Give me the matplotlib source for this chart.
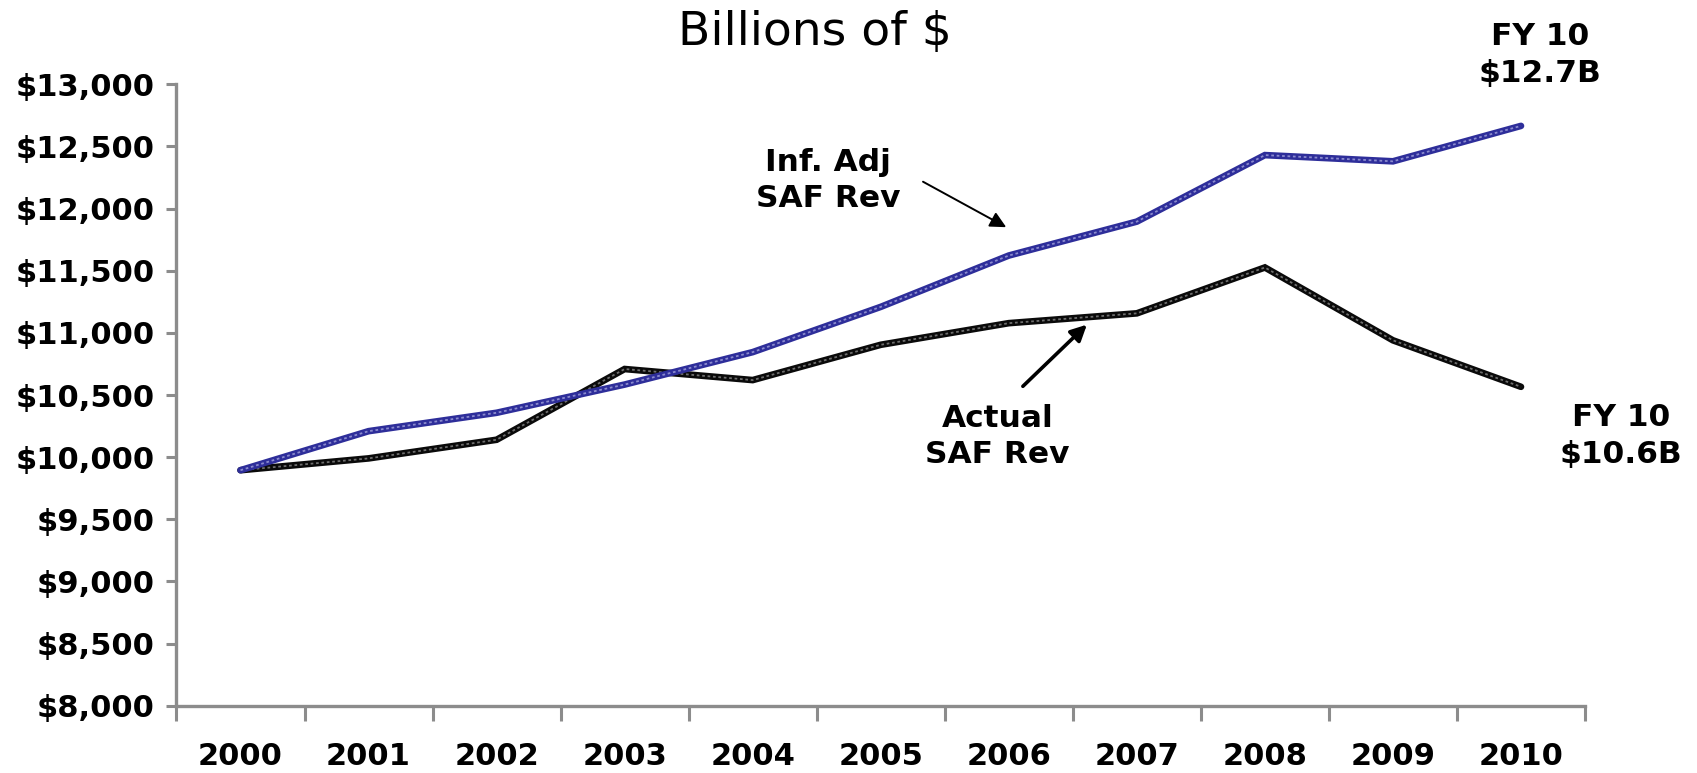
import numpy as np
import matplotlib.pyplot as plt

# data
years = ["2000", "2001", "2002", "2003", "2004", "2005",
         "2006", "2007", "2008", "2009", "2010"]
inf_adj = [9895, 10209, 10357, 10584, 10845, 11209, 11622, 11895, 12430, 12380, 12665]
actual = [9895, 9990, 10140, 10709, 10620, 10904, 11078, 11157, 11526, 10940, 10566]
y_ticks = [8000, 8500, 9000, 9500, 10000, 10500, 11000, 11500, 12000, 12500, 13000]

fig = plt.figure(figsize=(16.97, 7.73), dpi=100)
ax = fig.add_axes([0.104, 0.087, 0.830, 0.804])

x = np.arange(len(years))

# thick line with a lighter dotted core, like the original
ax.plot(x, inf_adj, color="#2e2e9a", lw=4.8, solid_joinstyle="miter",
        solid_capstyle="round", zorder=3)
ax.plot(x, inf_adj, color="#8a8ace", lw=1.3, ls=(0, (1.5, 1.5)), zorder=4)
ax.plot(x, actual, color="#0a0a0a", lw=4.8, solid_joinstyle="miter",
        solid_capstyle="round", zorder=2)
ax.plot(x, actual, color="#6e6e6e", lw=1.3, ls=(0, (1.5, 1.5)), zorder=2.5)

ax.set_xlim(-0.5, len(years) - 0.5)
ax.set_ylim(8000, 13000)

# tick marks between categories, labels at categories
ax.set_xticks(np.arange(-0.5, len(years), 1.0))
ax.set_xticklabels([])
ax.set_xticks(x, minor=True)
ax.set_xticklabels(years, minor=True, fontsize=22, fontweight="bold")
ax.tick_params(axis="x", which="major", length=11, width=2.2, color="#8c8c8c", direction="out")
ax.tick_params(axis="x", which="minor", length=0, pad=26)

ax.set_yticks(y_ticks)
ax.set_yticklabels(["${:,}".format(v) for v in y_ticks], fontsize=22, fontweight="bold")
ax.tick_params(axis="y", length=7, width=2.2, color="#8c8c8c", pad=9)

for s in ["top", "right"]:
    ax.spines[s].set_visible(False)
for s in ["left", "bottom"]:
    ax.spines[s].set_color("#8c8c8c")
    ax.spines[s].set_linewidth(2.4)

fig.text(0.48, 0.958, "Billions of $", ha="center", va="center", fontsize=34)

# annotations
ax.text(4.59, 12225, "Inf. Adj\nSAF Rev", ha="center", va="center", fontsize=22.5,
        fontweight="bold", linespacing=1.3)
ax.annotate("", xy=(5.98, 11850), xytext=(5.33, 12216),
            arrowprops=dict(arrowstyle="-|>", color="black", lw=1.4, mutation_scale=24,
                            shrinkA=0, shrinkB=0))
ax.text(5.91, 10169, "Actual\nSAF Rev", ha="center", va="center", fontsize=22.5,
        fontweight="bold", linespacing=1.3)
ax.annotate("", xy=(6.61, 11066), xytext=(6.11, 10570),
            arrowprops=dict(arrowstyle="-|>", color="black", lw=2.6, mutation_scale=24,
                            shrinkA=0, shrinkB=0))
fig.text(0.9075, 0.929, "FY 10\n$12.7B", ha="center", va="center", fontsize=22.5,
         fontweight="bold", linespacing=1.35)
fig.text(0.955, 0.4355, "FY 10\n$10.6B", ha="center", va="center", fontsize=22.5,
         fontweight="bold", linespacing=1.35)

fig.savefig("out.png", dpi=100)
